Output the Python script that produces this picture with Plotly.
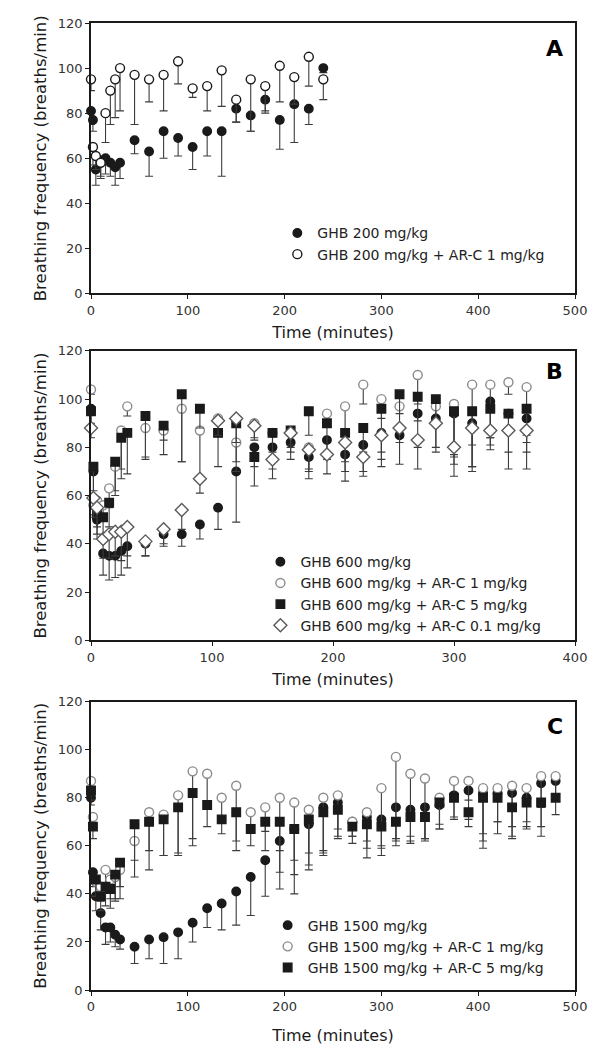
import plotly.graph_objects as go
from plotly.subplots import make_subplots

# ---------------- panel A : GHB 200 mg/kg ----------------
time_a = [0, 2, 5, 10, 15, 20, 25, 30, 45, 60, 75, 90, 105, 120, 135, 150, 165, 180, 195, 210, 225, 240]
a_ghb = [81, 77, 55, 59, 60, 58, 56, 58, 68, 63, 72, 69, 65, 72, 72, 82, 79, 86, 77, 84, 82, 100]
a_ghb_err = [6, 5, 7, 8, 7, 6, 8, 7, 6, 11, 12, 8, 10, 11, 20, 6, 7, 5, 13, 17, 7, 2]
a_arc1 = [95, 65, 61, 58, 80, 90, 95, 100, 97, 95, 97, 103, 91, 92, 99, 86, 95, 92, 101, 96, 105, 95]
a_arc1_err = [5, 8, 6, 6, 13, 15, 17, 19, 22, 10, 16, 10, 4, 11, 16, 10, 23, 12, 16, 12, 13, 9]

# ---------------- panel B : GHB 600 mg/kg ----------------
time_b = [0, 2, 5, 10, 15, 20, 25, 30, 45, 60, 75, 90, 105, 120, 135, 150, 165, 180,
          195, 210, 225, 240, 255, 270, 285, 300, 315, 330, 345, 360]
b_ghb = [96, 70, 50, 36, 35, 35, 37, 39, 40, 44, 44, 48, 55, 70, 80, 80, 82, 76,
         83, 77, 81, 86, 85, 94, 92, 94, 90, 99, 94, 92]
b_ghb_err = [6, 8, 8, 9, 10, 9, 10, 9, 5, 5, 5, 6, 9, 21, 8, 9, 7, 9,
             8, 11, 13, 14, 12, 14, 14, 18, 18, 15, 16, 14]
b_arc1 = [104, 56, 58, 56, 63, 72, 87, 97, 88, 87, 96, 87, 92, 82, 90, 86, 86, 80,
          94, 97, 106, 100, 97, 110, 97, 98, 106, 106, 107, 105]
b_arc1_err = [2, 4, 5, 6, 8, 10, 16, 4, 13, 10, 22, 20, 7, 8, 6, 8, 6, 10,
              5, 15, 8, 8, 10, 12, 8, 25, 25, 25, 5, 20]
b_arc5 = [95, 72, 52, 51, 57, 74, 84, 86, 93, 89, 102, 96, 86, 90, 76, 86, 87, 95,
          90, 86, 88, 96, 102, 101, 100, 95, 95, 96, 94, 96]
b_arc5_err = [6, 12, 8, 8, 10, 14, 17, 17, 17, 6, 28, 8, 14, 8, 12, 12, 6, 10,
              12, 16, 10, 18, 8, 10, 9, 18, 25, 12, 8, 14]
b_arc01 = [88, 59, 55, 42, 44, 45, 45, 47, 41, 46, 54, 67, 91, 92, 89, 75, 86, 79,
           77, 82, 76, 85, 88, 83, 90, 80, 88, 87, 87, 87]
b_arc01_err = [4, 8, 8, 8, 10, 10, 12, 12, 6, 6, 8, 6, 6, 22, 6, 8, 8, 8,
               8, 8, 6, 10, 6, 12, 10, 12, 16, 8, 16, 16]

# ---------------- panel C : GHB 1500 mg/kg ----------------
time_c = [0, 2, 5, 10, 15, 20, 25, 30, 45, 60, 75, 90, 105, 120, 135, 150, 165, 180, 195,
          210, 225, 240, 255, 270, 285, 300, 315, 330, 345, 360, 375, 390, 405, 420, 435,
          450, 465, 480]
c_ghb = [80, 49, 39, 32, 26, 26, 23, 21, 18, 21, 22, 24, 28, 34, 36, 41, 47, 54, 62,
         67, 69, 76, 78, 70, 72, 71, 76, 75, 76, 77, 81, 83, 82, 82, 82, 80, 86, 87]
c_ghb_err = [3, 6, 6, 7, 7, 6, 5, 4, 7, 8, 11, 11, 8, 8, 11, 14, 16, 15, 20,
             27, 19, 19, 14, 6, 10, 15, 16, 14, 13, 10, 10, 12, 20, 12, 14, 12, 18, 8]
c_arc1 = [87, 72, 45, 43, 50, 46, 47, 50, 62, 74, 73, 81, 91, 90, 80, 85, 74, 76, 80,
          78, 75, 80, 81, 70, 74, 84, 97, 90, 88, 80, 87, 87, 84, 84, 85, 84, 89, 89]
c_arc1_err = [3, 4, 6, 6, 8, 8, 10, 12, 8, 16, 17, 25, 28, 12, 8, 23, 8, 10, 31,
              30, 18, 22, 14, 6, 15, 25, 35, 28, 25, 13, 8, 8, 25, 19, 22, 14, 13, 8]
c_arc5 = [83, 68, 46, 39, 43, 42, 48, 53, 69, 70, 71, 76, 82, 77, 71, 74, 67, 70, 70,
          67, 71, 74, 75, 68, 69, 68, 70, 72, 72, 78, 80, 74, 80, 80, 76, 78, 78, 80]
c_arc5_err = [4, 5, 7, 6, 8, 8, 10, 10, 22, 20, 15, 19, 22, 9, 6, 16, 7, 12, 12,
              13, 19, 18, 12, 7, 14, 8, 7, 8, 10, 9, 8, 6, 15, 10, 12, 11, 14, 7]

FONT = "DejaVu Sans"
INK = "#1a1a1a"
GREY = "#8c8c8c"

fig = make_subplots(rows=3, cols=1)


def add_series(row, x, y, err, name, symbol, fill, edge, legend, size=8.5):
    fig.add_trace(go.Scatter(
        x=x, y=y, mode="markers", name=name, legend=legend, cliponaxis=False,
        marker=dict(symbol=symbol, size=size, color=fill, line=dict(color=edge, width=1.4)),
        error_y=dict(type="data", symmetric=False, array=[0] * len(err), arrayminus=err,
                     color="#3c3c3c", thickness=1.1, width=4),
    ), row=row, col=1)


add_series(1, time_a, a_ghb, a_ghb_err, "GHB 200 mg/kg", "circle", INK, INK, "legend")
add_series(1, time_a, a_arc1, a_arc1_err, "GHB 200 mg/kg + AR-C 1 mg/kg", "circle", "white", INK, "legend", 9)

add_series(2, time_b, b_ghb, b_ghb_err, "GHB 600 mg/kg", "circle", INK, INK, "legend2")
add_series(2, time_b, b_arc1, b_arc1_err, "GHB 600 mg/kg + AR-C 1 mg/kg", "circle", "white", GREY, "legend2", 9)
add_series(2, time_b, b_arc5, b_arc5_err, "GHB 600 mg/kg + AR-C 5 mg/kg", "square", INK, INK, "legend2")
add_series(2, time_b, b_arc01, b_arc01_err, "GHB 600 mg/kg + AR-C 0.1 mg/kg", "diamond", "white", "#5a5a5a", "legend2", 10)

add_series(3, time_c, c_ghb, c_ghb_err, "GHB 1500 mg/kg", "circle", INK, INK, "legend3")
add_series(3, time_c, c_arc1, c_arc1_err, "GHB 1500 mg/kg + AR-C 1 mg/kg", "circle", "white", GREY, "legend3", 9)
add_series(3, time_c, c_arc5, c_arc5_err, "GHB 1500 mg/kg + AR-C 5 mg/kg", "square", INK, INK, "legend3")

# page body adds 8px, so the figure is 8px smaller and margins shifted
domains = [[0.7203, 1.0], [0.3617, 0.6609], [0.0, 0.2982]]
xmax = [500, 400, 500]
x_standoff = [10, 10, 16]
for i in range(3):
    fig.update_xaxes(range=[0, xmax[i]], dtick=100, domain=[0, 1], row=i + 1, col=1,
                     showline=True, linecolor=INK, linewidth=1.6, mirror=True,
                     ticks="outside", ticklen=4, tickcolor=INK, showgrid=False, zeroline=False,
                     tickfont=dict(family=FONT, size=13, color="#333"),
                     title=dict(text="Time (minutes)", font=dict(family=FONT, size=16, color=INK),
                                standoff=x_standoff[i]))
    fig.update_yaxes(range=[0, 120], dtick=20, domain=domains[i], row=i + 1, col=1,
                     showline=True, linecolor=INK, linewidth=1.6, mirror=True,
                     ticks="outside", ticklen=4, tickcolor=INK, showgrid=False, zeroline=False,
                     tickfont=dict(family=FONT, size=13, color="#333"),
                     title=dict(text="Breathing frequency (breaths/min)",
                                font=dict(family=FONT, size=16.5, color=INK), standoff=7))

letters = [("A", "y domain", 0.905), ("B", "y2 domain", 0.928), ("C", "y3 domain", 0.914)]
xrefs = ["x domain", "x2 domain", "x3 domain"]
for (txt, yref, yy), xref in zip(letters, xrefs):
    fig.add_annotation(text=txt, xref=xref, yref=yref, x=0.958, y=yy, showarrow=False,
                       xanchor="center", yanchor="middle",
                       font=dict(family=FONT, size=22, color="black", weight="bold"))

legend_style = dict(bgcolor="rgba(0,0,0,0)", font=dict(family=FONT, size=14, color="#222"),
                    xanchor="left", yanchor="top", itemwidth=30)
fig.update_layout(
    width=604, height=1042,
    margin=dict(l=83, r=37, t=8, b=58),
    paper_bgcolor="white", plot_bgcolor="white",
    showlegend=True,
    legend=dict(x=0.385, y=0.799, **legend_style),
    legend2=dict(x=0.35, y=0.459, **legend_style),
    legend3=dict(x=0.365, y=0.0832, **legend_style),
)

fig.write_html("out.html")
